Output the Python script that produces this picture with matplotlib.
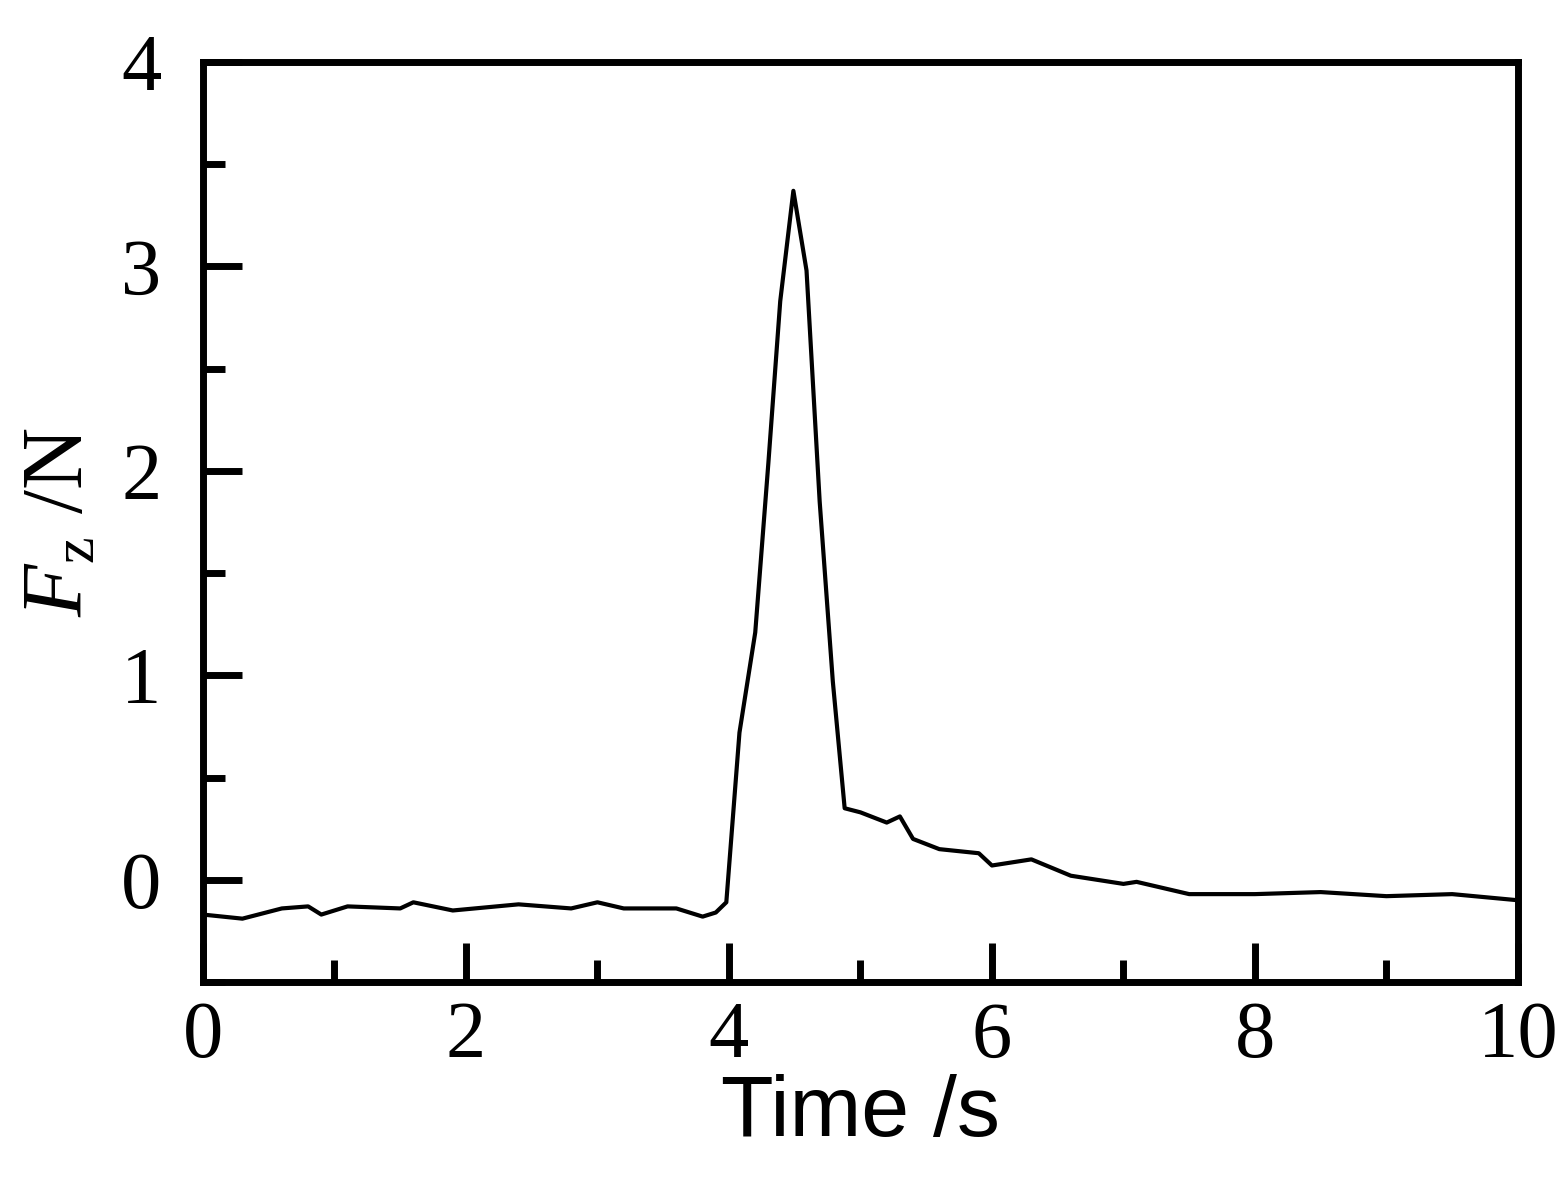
import matplotlib
matplotlib.use('Agg')
import matplotlib.pyplot as plt
from matplotlib.ticker import MultipleLocator

plt.rcParams['mathtext.fontset'] = 'custom'
plt.rcParams['mathtext.it'] = 'Liberation Serif:italic'
plt.rcParams['mathtext.rm'] = 'Liberation Serif'

# Force trace
time_s = [0, 0.3, 0.6, 0.8, 0.9, 1.1, 1.5, 1.6, 1.9, 2.4, 2.8, 3.0, 3.2, 3.6, 3.8, 3.9,
          3.98, 4.08, 4.2, 4.3, 4.39, 4.49, 4.59, 4.69, 4.79, 4.88,
          5.0, 5.2, 5.3, 5.4, 5.6, 5.9, 6.0, 6.3, 6.6, 7.0, 7.1, 7.3, 7.5,
          8.0, 8.5, 9.0, 9.5, 10.0]
fz_n = [-0.17, -0.19, -0.14, -0.13, -0.17, -0.13, -0.14, -0.11, -0.15, -0.12, -0.14, -0.11, -0.14, -0.14, -0.18, -0.16,
        -0.11, 0.72, 1.21, 2.04, 2.83, 3.37, 2.98, 1.85, 0.97, 0.35,
        0.33, 0.28, 0.31, 0.20, 0.15, 0.13, 0.07, 0.10, 0.02, -0.02, -0.01, -0.04, -0.07,
        -0.07, -0.06, -0.08, -0.07, -0.10]

fig = plt.figure(figsize=(15.66, 12.02), dpi=100)
ax = fig.add_axes([0.1296, 0.183, 0.8397, 0.7654])
ax.plot(time_s, fz_n, color='black', lw=3)

ax.set_xlim(0, 10)
ax.set_ylim(-0.5, 4)
ax.xaxis.set_major_locator(MultipleLocator(2))
ax.xaxis.set_minor_locator(MultipleLocator(1))
ax.yaxis.set_major_locator(MultipleLocator(1))
ax.yaxis.set_minor_locator(MultipleLocator(0.5))
ax.tick_params(which='both', direction='in', width=5, top=False, right=False, pad=14)
ax.tick_params(which='major', length=28)
ax.tick_params(which='minor', length=16)
ax.tick_params(axis='y', pad=30)
for s in ax.spines.values():
    s.set_linewidth(5)

for lab in ax.get_xticklabels() + ax.get_yticklabels():
    lab.set_family('Liberation Serif')
    lab.set_fontsize(58)

ax.set_xlabel('Time /s', family='Liberation Sans', fontsize=62, labelpad=0)
ax.set_ylabel(r'$\mathit{F}_{\mathrm{z}}$ /N', family='Liberation Serif', fontsize=62, labelpad=14)

fig.savefig('out.png', dpi=100)
